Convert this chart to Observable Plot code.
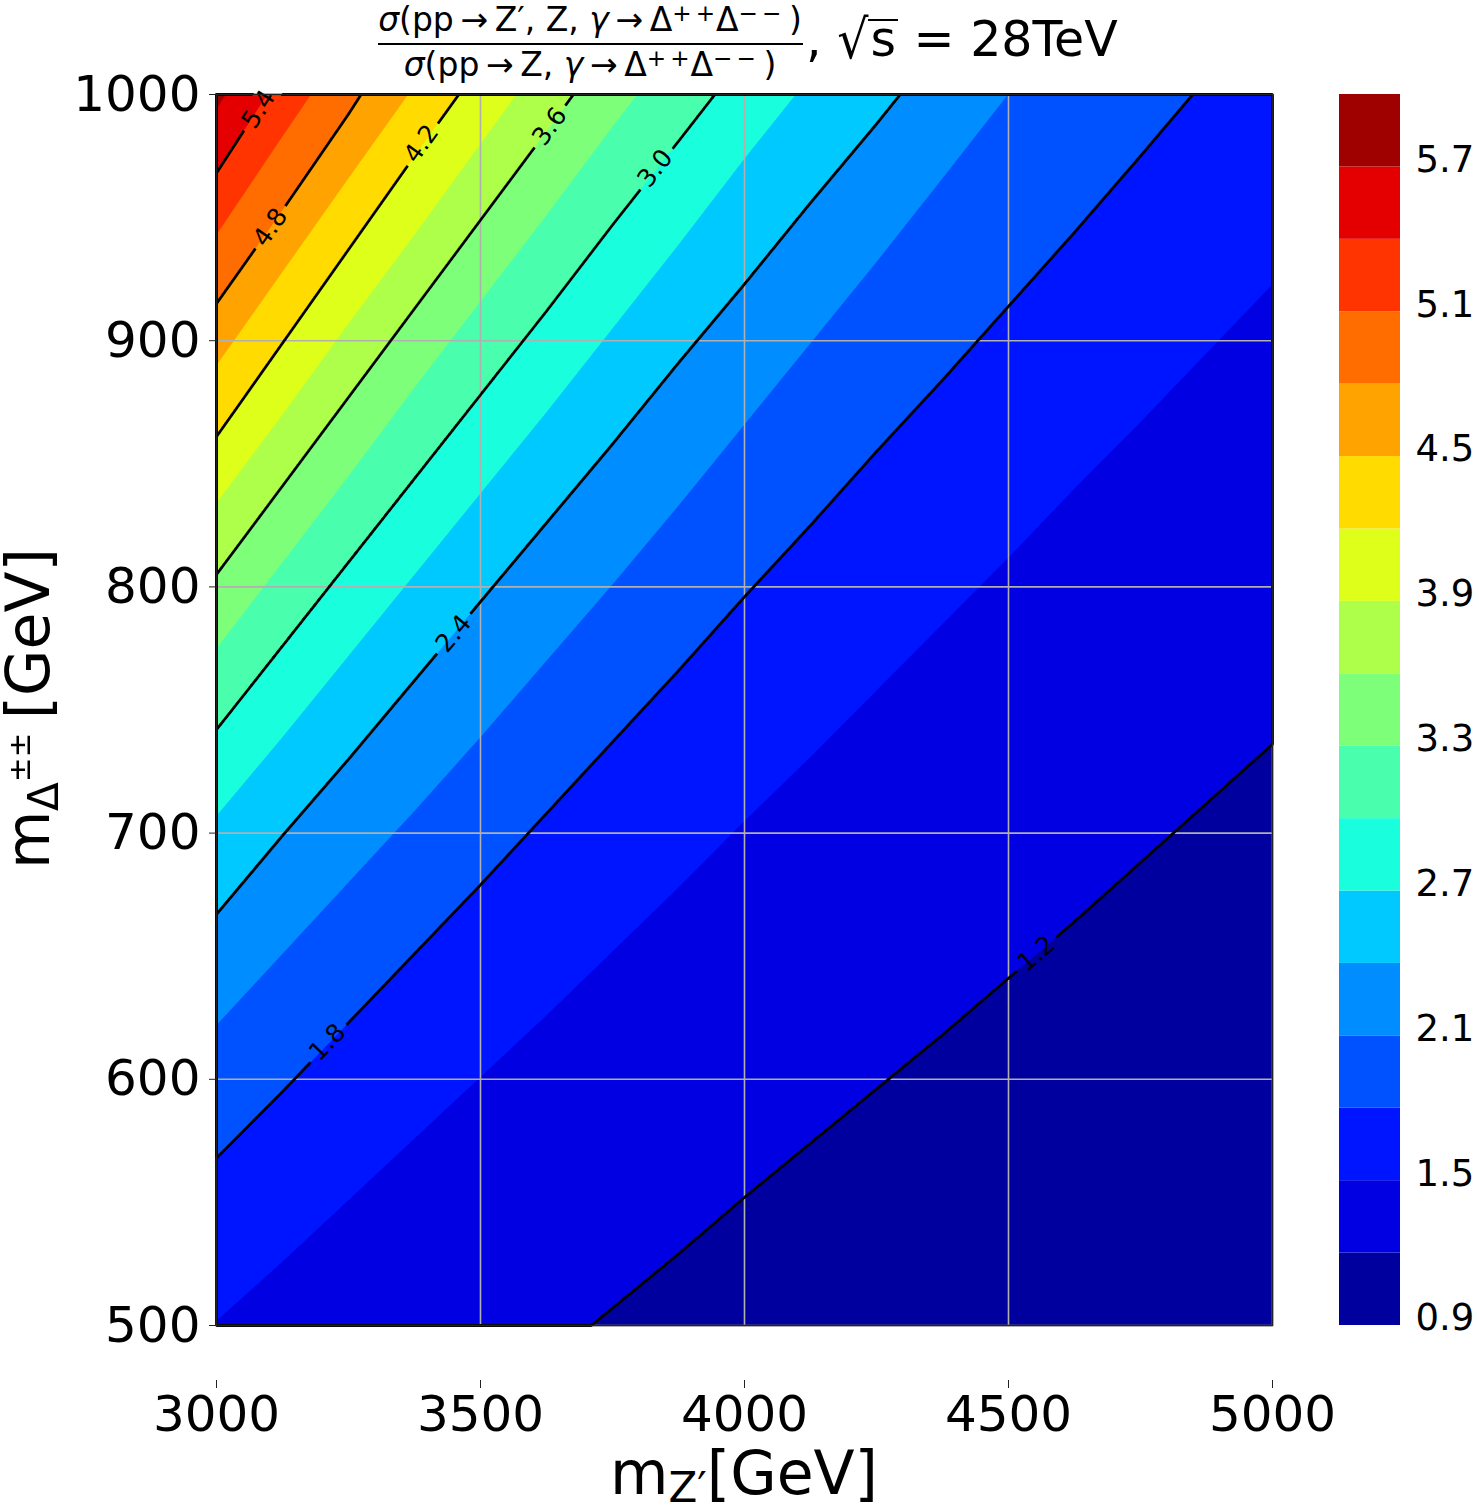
<!DOCTYPE html>
<html><head><meta charset="utf-8">
<script src="https://cdn.jsdelivr.net/npm/d3@7"></script>
<script src="https://cdn.jsdelivr.net/npm/@observablehq/plot@0.6"></script>
<style>
body{margin:0;background:#fff;}
#root{position:relative;width:1479px;height:1512px;overflow:hidden;font-family:"DejaVu Sans";background:#fff;color:#000;}
.abs{position:absolute;white-space:nowrap;}
svg{overflow:visible;}
</style></head><body><div id="root"></div>
<script>
// ---- data: positions (mZ', mDelta in GeV) along each iso-ratio line ----
const lineX = [3000, 3125, 3250, 3375, 3500, 3625, 3750, 3875, 4000, 4125, 4250, 4375, 4500, 4625, 4750, 4875, 5000];
const iso12X = [3710, 3750, 3875, 4000, 4125, 4250, 4375, 4500, 4625, 4750, 4875, 5000];
const iso12Y = [500, 507, 529, 552, 574, 596, 618, 641, 664, 688, 712, 736];
const iso15Y = [502, 526, 551, 576, 601, 626, 652, 678, 705, 731, 758, 785, 812, 840, 867, 895, 923];
const iso18Y = [568, 595, 623, 651, 679, 708, 737, 766, 796, 825, 855, 884, 914, 944, 975];
const iso18End = [4849, 1000];
const iso21Y = [622, 651, 680, 709, 739, 770, 801, 833, 866, 899, 932, 966];
const iso21End = [4499, 1000];
const iso24Y = [667, 699, 730, 762, 794, 826, 858, 891, 923, 956, 988];
const iso24End = [4295, 1000];
const iso27Y = [707, 739, 772, 805, 838, 871, 905, 939, 974];
const iso27End = [4097, 1000];
const iso30Y = [742, 776, 810, 844, 878, 912, 947, 981];
const iso30End = [3944, 1000];
const iso33Y = [775, 810, 845, 881, 916, 951, 987];
const iso33End = [3797, 1000];
const iso36Y = [805, 841, 877, 913, 949, 985];
const iso36End = [3676, 1000];
const iso39Y = [834, 870, 907, 943, 980];
const iso39End = [3568, 1000];
const iso42Y = [861, 899, 937, 975];
const iso42End = [3459, 1000];
const iso45Y = [890, 928, 966];
const iso45End = [3363, 1000];
const iso48Y = [915, 953, 992];
const iso48End = [3274, 1000];
const iso51Y = [943, 983];
const iso51End = [3179, 1000];
const iso54Y = [968];
const iso54End = [3096, 1000];
const iso57Y = [994];
const iso57End = [3018, 1000];

const levels = [0.9, 1.2, 1.5, 1.8, 2.1, 2.4, 2.7, 3.0, 3.3, 3.6, 3.9, 4.2, 4.5, 4.8, 5.1, 5.4, 5.7, 6.0];
const lineLevels = [1.2, 1.8, 2.4, 3.0, 3.6, 4.2, 4.8, 5.4];
const xTicks = [3000, 3500, 4000, 4500, 5000];
const yTicks = [500, 600, 700, 800, 900, 1000];
const cbarTicks = [0.9, 1.5, 2.1, 2.7, 3.3, 3.9, 4.5, 5.1, 5.7];
// inline contour labels (level, position on the line in GeV)
const labelLevels = [5.4, 4.8, 4.2, 3.6, 3.0, 2.4, 1.8, 1.2];
const labelMZp    = [3080, 3102, 3388, 3631, 3831, 3449, 3210, 4553];
const labelMDelta = [994, 946, 980, 987, 970, 781, 615, 651];

// ---- assemble the sample table ----
const samples = [];
function addLine(v, xs, ys, end) {
  ys.forEach((y, i) => samples.push({x: xs[i], y, v}));
  if (end) samples.push({x: end[0], y: end[1], v});
}
addLine(1.2, iso12X, iso12Y);
addLine(1.5, lineX, iso15Y);
addLine(1.8, lineX, iso18Y, iso18End);
addLine(2.1, lineX, iso21Y, iso21End);
addLine(2.4, lineX, iso24Y, iso24End);
addLine(2.7, lineX, iso27Y, iso27End);
addLine(3.0, lineX, iso30Y, iso30End);
addLine(3.3, lineX, iso33Y, iso33End);
addLine(3.6, lineX, iso36Y, iso36End);
addLine(3.9, lineX, iso39Y, iso39End);
addLine(4.2, lineX, iso42Y, iso42End);
addLine(4.5, lineX, iso45Y, iso45End);
addLine(4.8, lineX, iso48Y, iso48End);
addLine(5.1, lineX, iso51Y, iso51End);
addLine(5.4, lineX, iso54Y, iso54End);
addLine(5.7, lineX, iso57Y, iso57End);

// ---- interpolation between neighbouring iso-lines (used by Plot.contour) ----
let cache = null;
function isoInterpolate(index, w, h, X, Y, V) {
  const key = w + "x" + h;
  if (cache && cache.key === key) return cache.out;
  const byLevel = d3.group(index, i => V[i]);
  const lv = Array.from(byLevel.keys()).sort((a, b) => a - b);
  const lines = lv.map(v => byLevel.get(v).map(i => [X[i], Y[i]]).sort((a, b) => a[0] - b[0]));
  const n = lines.length;
  const step = lv.length > 1 ? lv[1] - lv[0] : 0.3;
  const meanY = pts => d3.mean(pts, p => p[1]);
  const up = meanY(lines[n - 1]) < meanY(lines[0]) ? 1 : -1; // 1: higher values at smaller raster y
  const colY = lines.map(pts => {
    const arr = new Float64Array(w);
    const first = pts[0][0], last = pts[pts.length - 1][0];
    let s = 0;
    for (let c = 0; c < w; c++) {
      const x = c + 0.5;
      if (x < first) { arr[c] = up * Infinity; continue; }
      if (x > last) { arr[c] = -up * Infinity; continue; }
      while (s < pts.length - 2 && pts[s + 1][0] < x) s++;
      const [x0, y0] = pts[s], [x1, y1] = pts[Math.min(s + 1, pts.length - 1)];
      arr[c] = x1 === x0 ? y0 : y0 + (y1 - y0) * (x - x0) / (x1 - x0);
    }
    return arr;
  });
  function dist(pts, x, y) {
    let best = Infinity;
    if (pts.length === 1) return Math.hypot(x - pts[0][0], y - pts[0][1]);
    for (let s = 0; s < pts.length - 1; s++) {
      const ax = pts[s][0], ay = pts[s][1], bx = pts[s + 1][0], by = pts[s + 1][1];
      const dx = bx - ax, dy = by - ay;
      const L = dx * dx + dy * dy;
      let t = L > 0 ? ((x - ax) * dx + (y - ay) * dy) / L : 0;
      t = t < 0 ? 0 : t > 1 ? 1 : t;
      const ex = ax + t * dx - x, ey = ay + t * dy - y;
      const d = ex * ex + ey * ey;
      if (d < best) best = d;
    }
    return Math.sqrt(best);
  }
  const out = new Float64Array(w * h);
  for (let r = 0; r < h; r++) {
    const y = r + 0.5;
    for (let c = 0; c < w; c++) {
      const x = c + 0.5;
      let k = 0;
      while (k < n && up * (y - colY[k][c]) < 0) k++;
      let v;
      if (k === 0) { const d = dist(lines[0], x, y); v = lv[0] - step * d / (d + 120); }
      else if (k === n) { const d = dist(lines[n - 1], x, y); v = lv[n - 1] + step * d / (d + 120); }
      else {
        const a = dist(lines[k - 1], x, y), b = dist(lines[k], x, y);
        v = lv[k - 1] + (lv[k] - lv[k - 1]) * (a + b > 0 ? a / (a + b) : 0.5);
      }
      out[r * w + c] = v;
    }
  }
  cache = {key, out};
  return out;
}

// ---- jet colormap (matplotlib) ----
function seg(pts, t) {
  for (let k = 0; k < pts.length - 1; k++) {
    const [x0, y0] = pts[k], [x1, y1] = pts[k + 1];
    if (t >= x0 && t <= x1) return y0 + (y1 - y0) * (t - x0) / (x1 - x0);
  }
  return pts[pts.length - 1][1];
}
function jet(t) {
  const r = seg([[0,0],[0.35,0],[0.66,1],[0.89,1],[1,0.5]], t);
  const g = seg([[0,0],[0.125,0],[0.375,1],[0.64,1],[0.91,0],[1,0]], t);
  const b = seg([[0,0.5],[0.11,1],[0.34,1],[0.65,0],[1,0]], t);
  return d3.rgb(Math.round(r*255), Math.round(g*255), Math.round(b*255)).formatHex();
}
const lo = levels[0], hi = levels[levels.length - 1];
const bands = levels.slice(0, -1);
const bandColors = bands.map((l, i) => {
  const t = ((l + levels[i + 1]) / 2 - lo) / (hi - lo);
  return jet(Math.min(255, Math.floor(t * 256)) / 255);
});
const colorScale = {type: "ordinal", domain: bands, range: bandColors};

// ---- layout ----
const W = 1300, H = 1450, mL = 216, mT = 94, mR = 28, mB = 125;
const fw = W - mL - mR, fh = H - mT - mB;
const xDom = [xTicks[0], xTicks[xTicks.length-1]], yDom = [yTicks[0], yTicks[yTicks.length-1]];
const kx = fw / (xDom[1] - xDom[0]), ky = fh / (yDom[1] - yDom[0]);

function angleFor(level, X) {
  const pts = samples.filter(s => Math.abs(s.v - level) < 1e-9).sort((a, b) => a.x - b.x);
  let k = pts.findIndex(p => p.x > X);
  if (k === -1) k = pts.length - 1;
  if (k <= 0) k = 1;
  const a = pts[k - 1], b = pts[k];
  return Math.atan2(-(b.y - a.y) * ky, (b.x - a.x) * kx) * 180 / Math.PI;
}
const labelIdx = labelLevels.map((_, i) => i);
const labelAngle = labelIdx.map(i => angleFor(labelLevels[i], labelMZp[i]));

const main = Plot.plot({
  width: W, height: H, marginLeft: mL, marginTop: mT, marginRight: mR, marginBottom: mB,
  style: {fontFamily: "DejaVu Sans", background: "transparent", color: "#000"},
  x: {domain: xDom},
  y: {domain: yDom},
  color: colorScale,
  marks: [
    Plot.contour(samples, {x: "x", y: "y", fill: "v", thresholds: bands, interpolate: isoInterpolate, pixelSize: 1}),
    Plot.gridX(xTicks, {stroke: "#b0b0b0", strokeOpacity: 1, strokeWidth: 1.6}),
    Plot.gridY(yTicks, {stroke: "#b0b0b0", strokeOpacity: 1, strokeWidth: 1.6}),
    Plot.contour(samples, {x: "x", y: "y", value: "v", thresholds: lineLevels, interpolate: isoInterpolate, pixelSize: 1,
      fill: "none", stroke: "black", strokeWidth: 2.8, ariaLabel: "isolines"}),
    Plot.text(labelIdx, {
      x: i => labelMZp[i], y: i => labelMDelta[i],
      text: i => labelLevels[i].toFixed(1),
      rotate: i => labelAngle[i],
      fontSize: 25, fill: "black"
    }),
    Plot.frame({stroke: "#222", strokeWidth: 1.6}),
    Plot.axisY(yTicks, {tickSize: 7, tickPadding: 9, fontSize: 50, label: null, tickFormat: d => String(d), stroke: "#222"}),
    Plot.axisX(xTicks, {tickSize: 0, tickPadding: 70, fontSize: 50, label: null, tickFormat: d => String(d)}),
    Plot.axisX(xTicks, {tickSize: 8, tickPadding: 0, label: null, tickFormat: () => "", dy: 55, stroke: "#222"})
  ]
});

// break the isolines under their labels (as matplotlib's inline clabel does)
(function () {
  const NS = "http://www.w3.org/2000/svg";
  const sx = main.scale("x"), sy = main.scale("y");
  const defs = document.createElementNS(NS, "defs");
  const mask = document.createElementNS(NS, "mask");
  mask.setAttribute("id", "isoline-breaks");
  mask.setAttribute("maskUnits", "userSpaceOnUse");
  mask.setAttribute("x", 0); mask.setAttribute("y", 0);
  mask.setAttribute("width", W); mask.setAttribute("height", H);
  const bg = document.createElementNS(NS, "rect");
  bg.setAttribute("width", W); bg.setAttribute("height", H); bg.setAttribute("fill", "white");
  mask.appendChild(bg);
  labelIdx.forEach(i => {
    const px = sx.apply(labelMZp[i]), py = sy.apply(labelMDelta[i]);
    const r = document.createElementNS(NS, "rect");
    const w = 52, h = 24;
    r.setAttribute("x", -w / 2); r.setAttribute("y", -h / 2);
    r.setAttribute("width", w); r.setAttribute("height", h);
    r.setAttribute("fill", "black");
    r.setAttribute("transform", `translate(${px},${py}) rotate(${labelAngle[i]})`);
    mask.appendChild(r);
  });
  defs.appendChild(mask);
  main.insertBefore(defs, main.firstChild);
  let g = main.querySelector('g[aria-label="isolines"]');
  if (!g) { const gs = main.querySelectorAll('g[aria-label="contour"]'); g = gs[1]; }
  if (g) {
    const wrap = document.createElementNS(NS, "g");
    g.parentNode.insertBefore(wrap, g);
    wrap.appendChild(g);
    wrap.setAttribute("mask", "url(#isoline-breaks)");
  }
})();

const cbar = Plot.plot({
  width: 140, height: H, marginTop: mT, marginBottom: mB, marginLeft: 0, marginRight: 79,
  style: {fontFamily: "DejaVu Sans", background: "transparent", color: "#000"},
  y: {domain: [lo, hi]},
  color: colorScale,
  marks: [
    Plot.rect(bands, {y1: d => d, y2: (d, i) => levels[i + 1], fill: d => d}),
    Plot.axisY(cbarTicks, {anchor: "right", tickSize: 0, tickPadding: 15, fontSize: 37, dy: -7, label: null, tickFormat: d => d.toFixed(1)})
  ]
});

const root = document.getElementById("root");
main.style.position = "absolute"; main.style.left = "0px"; main.style.top = "0px";
cbar.style.position = "absolute"; cbar.style.left = (mL + fw + 67) + "px"; cbar.style.top = "0px";
root.appendChild(main);
root.appendChild(cbar);

// ---- title and axis labels ----
const arrow = "\u2009\u2192\u2009";
const sup = s => `<span style="font-size:0.7em;position:relative;top:-0.45em;letter-spacing:0.04em;">${s}</span>`;
root.insertAdjacentHTML("beforeend", `
<div class="abs" style="left:365px;top:3px;width:450px;text-align:center;font-size:33px;line-height:33px;">
  <i>σ</i>(pp${arrow}Z′, Z, <i>γ</i>${arrow}Δ${sup("+\u200a+")}Δ${sup("−\u200a−")}\u2009)</div>
<div class="abs" style="left:378px;top:43px;width:425px;height:2px;background:#000;"></div>
<div class="abs" style="left:365px;top:48px;width:450px;text-align:center;font-size:33px;line-height:33px;">
  <i>σ</i>(pp${arrow}Z, <i>γ</i>${arrow}Δ${sup("+\u200a+")}Δ${sup("−\u200a−")}\u2009)</div>
<div class="abs" style="left:806px;top:15px;font-size:49px;line-height:49px;">,
  <span style="display:inline-block;transform:scaleY(1.1);">√</span><span style="border-top:2.5px solid #000;display:inline-block;line-height:37px;padding:0 2px;">s</span> = 28TeV</div>
<div class="abs" style="left:744px;top:1443px;transform:translateX(-50%);font-size:60px;line-height:60px;">m<span style="font-size:0.7em;position:relative;top:0.18em;">Z′</span>[GeV]</div>
<div class="abs" style="left:1px;top:548px;height:322px;width:38px;writing-mode:vertical-rl;text-orientation:sideways;transform:rotate(180deg);text-align:center;font-size:60px;line-height:38px;">m<span style="font-size:0.7em;vertical-align:-0.22em;">Δ<span style="font-size:0.7em;vertical-align:0.95em;margin-inline-end:0.45em;">±±</span></span>[GeV]</div>
`);
</script>
</body></html>
